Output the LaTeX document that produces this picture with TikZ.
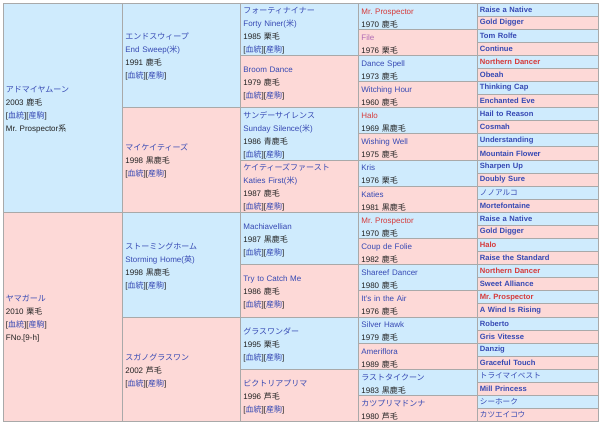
\documentclass[tikz,border=0pt]{standalone}
\usepackage{fontspec}
\setmainfont{Liberation Sans}
\newfontfamily\jpfont{Noto Sans CJK JP}
\frenchspacing
\definecolor{cblue}{HTML}{CFEBFD}
\definecolor{cpink}{HTML}{FDD9D7}
\definecolor{bord}{HTML}{A9A9A9}
\definecolor{lnk}{HTML}{3649B4}
\definecolor{rdc}{HTML}{D63A3A}
\definecolor{filec}{HTML}{B06BB5}
\definecolor{txtc}{HTML}{222222}
\newcommand\J[1]{{\jpfont\mdseries #1}}
\newcommand\lk[1]{\textcolor{lnk}{#1}}
\newcommand\rdn[1]{\textcolor{rdc}{#1}}
\newcommand\pedlk{[\lk{\J{血統}}][\lk{\J{産駒}}]}
\expandafter\def\csname xpcolA\endcsname{2.5}
\expandafter\def\csname xpcolB\endcsname{122}
\expandafter\def\csname xpcolC\endcsname{240}
\expandafter\def\csname xpcolD\endcsname{358}
\expandafter\def\csname xpcolE\endcsname{476.5}
\newcommand\pcell[6]{\edef\pcx{\csname xp#2\endcsname}\node[pcell,#2,fill=#5,minimum height={#4*13.08pt}] (#1) at ({\pcx},{2.6+#3*13.08}) {#6};}
\tikzset{
  pcell/.style={draw=bord, line width=0.8pt, anchor=north west, align=left,
    inner xsep=3pt, inner ysep=0pt, text=txtc, font=\fontsize{8}{13}\selectfont},
  lowered/.style={execute at begin node={\rule{0pt}{9.5pt}}},
  colA/.style={text width=113.5pt, lowered},
  colB/.style={text width=112pt, lowered},
  colC/.style={text width=112pt, lowered},
  colD/.style={text width=112.5pt, lowered},
  colE/.style={text width=115pt, font=\fontsize{7.6}{13}\selectfont\bfseries},
}
\begin{document}
\begin{tikzpicture}[x=1pt,y=-1pt]
\useasboundingbox (0,0) rectangle (600,425);
% generation 1
\pcell{a1}{colA}{0}{16}{cblue}{\lk{\J{アドマイヤムーン}}\\2003 \J{鹿毛}\\\pedlk\\Mr. Prospector\J{系}}
\pcell{a2}{colA}{16}{16}{cpink}{\lk{\J{ヤマガール}}\\2010 \J{栗毛}\\\pedlk\\FNo.[9-h]}
% generation 2
\pcell{b1}{colB}{0}{8}{cblue}{\lk{\J{エンドスウィープ}}\\\lk{End Sweep(\J{米})}\\1991 \J{鹿毛}\\\pedlk}
\pcell{b2}{colB}{8}{8}{cpink}{\lk{\J{マイケイティーズ}}\\1998 \J{黒鹿毛}\\\pedlk}
\pcell{b3}{colB}{16}{8}{cblue}{\lk{\J{ストーミングホーム}}\\\lk{Storming Home(\J{英})}\\1998 \J{黒鹿毛}\\\pedlk}
\pcell{b4}{colB}{24}{8}{cpink}{\lk{\J{スガノグラスワン}}\\2002 \J{芦毛}\\\pedlk}
% generation 3
\pcell{c1}{colC}{0}{4}{cblue}{\lk{\J{フォーティナイナー}}\\\lk{Forty Niner(\J{米})}\\1985 \J{栗毛}\\\pedlk}
\pcell{c2}{colC}{4}{4}{cpink}{\lk{Broom Dance}\\1979 \J{鹿毛}\\\pedlk}
\pcell{c3}{colC}{8}{4}{cblue}{\lk{\J{サンデーサイレンス}}\\\lk{Sunday Silence(\J{米})}\\1986 \J{青鹿毛}\\\pedlk}
\pcell{c4}{colC}{12}{4}{cpink}{\lk{\J{ケイティーズファースト}}\\\lk{Katies First(\J{米})}\\1987 \J{鹿毛}\\\pedlk}
\pcell{c5}{colC}{16}{4}{cblue}{\lk{Machiavellian}\\1987 \J{黒鹿毛}\\\pedlk}
\pcell{c6}{colC}{20}{4}{cpink}{\lk{Try to Catch Me}\\1986 \J{鹿毛}\\\pedlk}
\pcell{c7}{colC}{24}{4}{cblue}{\lk{\J{グラスワンダー}}\\1995 \J{栗毛}\\\pedlk}
\pcell{c8}{colC}{28}{4}{cpink}{\lk{\J{ビクトリアプリマ}}\\1996 \J{芦毛}\\\pedlk}
% generation 4
\pcell{d1}{colD}{0}{2}{cblue}{\rdn{Mr. Prospector}\\1970 \J{鹿毛}}
\pcell{d2}{colD}{2}{2}{cpink}{\textcolor{filec}{File}\\1976 \J{栗毛}}
\pcell{d3}{colD}{4}{2}{cblue}{\lk{Dance Spell}\\1973 \J{鹿毛}}
\pcell{d4}{colD}{6}{2}{cpink}{\lk{Witching Hour}\\1960 \J{鹿毛}}
\pcell{d5}{colD}{8}{2}{cblue}{\rdn{Halo}\\1969 \J{黒鹿毛}}
\pcell{d6}{colD}{10}{2}{cpink}{\lk{Wishing Well}\\1975 \J{鹿毛}}
\pcell{d7}{colD}{12}{2}{cblue}{\lk{Kris}\\1976 \J{栗毛}}
\pcell{d8}{colD}{14}{2}{cpink}{\lk{Katies}\\1981 \J{黒鹿毛}}
\pcell{d9}{colD}{16}{2}{cblue}{\rdn{Mr. Prospector}\\1970 \J{鹿毛}}
\pcell{d10}{colD}{18}{2}{cpink}{\lk{Coup de Folie}\\1982 \J{鹿毛}}
\pcell{d11}{colD}{20}{2}{cblue}{\lk{Shareef Dancer}\\1980 \J{鹿毛}}
\pcell{d12}{colD}{22}{2}{cpink}{\lk{It's in the Air}\\1976 \J{鹿毛}}
\pcell{d13}{colD}{24}{2}{cblue}{\lk{Silver Hawk}\\1979 \J{鹿毛}}
\pcell{d14}{colD}{26}{2}{cpink}{\lk{Ameriflora}\\1989 \J{鹿毛}}
\pcell{d15}{colD}{28}{2}{cblue}{\lk{\J{ラストタイクーン}}\\1983 \J{黒鹿毛}}
\pcell{d16}{colD}{30}{2}{cpink}{\lk{\J{カツプリマドンナ}}\\1980 \J{芦毛}}
% generation 5
\pcell{e1}{colE}{0}{1}{cblue}{\lk{Raise a Native}}
\pcell{e2}{colE}{1}{1}{cpink}{\lk{Gold Digger}}
\pcell{e3}{colE}{2}{1}{cblue}{\lk{Tom Rolfe}}
\pcell{e4}{colE}{3}{1}{cpink}{\lk{Continue}}
\pcell{e5}{colE}{4}{1}{cblue}{\rdn{Northern Dancer}}
\pcell{e6}{colE}{5}{1}{cpink}{\lk{Obeah}}
\pcell{e7}{colE}{6}{1}{cblue}{\lk{Thinking Cap}}
\pcell{e8}{colE}{7}{1}{cpink}{\lk{Enchanted Eve}}
\pcell{e9}{colE}{8}{1}{cblue}{\lk{Hail to Reason}}
\pcell{e10}{colE}{9}{1}{cpink}{\lk{Cosmah}}
\pcell{e11}{colE}{10}{1}{cblue}{\lk{Understanding}}
\pcell{e12}{colE}{11}{1}{cpink}{\lk{Mountain Flower}}
\pcell{e13}{colE}{12}{1}{cblue}{\lk{Sharpen Up}}
\pcell{e14}{colE}{13}{1}{cpink}{\lk{Doubly Sure}}
\pcell{e15}{colE}{14}{1}{cblue}{\lk{\J{ノノアルコ}}}
\pcell{e16}{colE}{15}{1}{cpink}{\lk{Mortefontaine}}
\pcell{e17}{colE}{16}{1}{cblue}{\lk{Raise a Native}}
\pcell{e18}{colE}{17}{1}{cpink}{\lk{Gold Digger}}
\pcell{e19}{colE}{18}{1}{cblue}{\rdn{Halo}}
\pcell{e20}{colE}{19}{1}{cpink}{\lk{Raise the Standard}}
\pcell{e21}{colE}{20}{1}{cblue}{\rdn{Northern Dancer}}
\pcell{e22}{colE}{21}{1}{cpink}{\lk{Sweet Alliance}}
\pcell{e23}{colE}{22}{1}{cblue}{\rdn{Mr. Prospector}}
\pcell{e24}{colE}{23}{1}{cpink}{\lk{A Wind Is Rising}}
\pcell{e25}{colE}{24}{1}{cblue}{\lk{Roberto}}
\pcell{e26}{colE}{25}{1}{cpink}{\lk{Gris Vitesse}}
\pcell{e27}{colE}{26}{1}{cblue}{\lk{Danzig}}
\pcell{e28}{colE}{27}{1}{cpink}{\lk{Graceful Touch}}
\pcell{e29}{colE}{28}{1}{cblue}{\lk{\J{トライマイベスト}}}
\pcell{e30}{colE}{29}{1}{cpink}{\lk{Mill Princess}}
\pcell{e31}{colE}{30}{1}{cblue}{\lk{\J{シーホーク}}}
\pcell{e32}{colE}{31}{1}{cpink}{\lk{\J{カツエイコウ}}}
\end{tikzpicture}
\end{document}
